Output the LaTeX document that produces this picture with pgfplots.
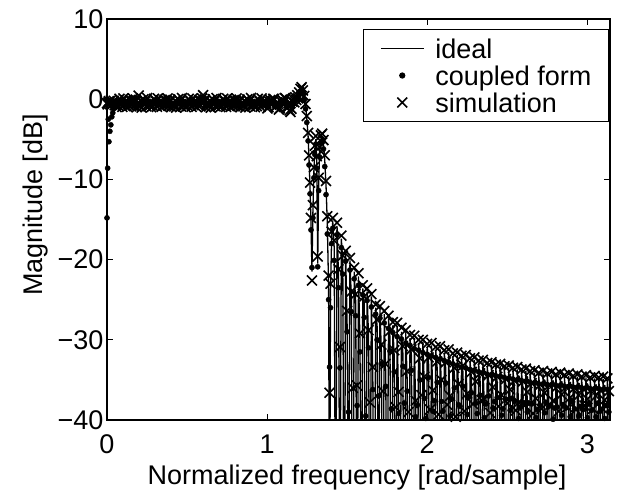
\documentclass[border=0pt]{standalone}
\usepackage{fontspec}
\setmainfont{Liberation Sans}
\usepackage{pgfplots}
\usepackage{pgfplotstable}
\pgfplotsset{compat=1.18}
\pgfplotstableread{
x id cf sim
0.000 -0.30 -14.8 -0.50
0.004 -0.28 -8.6 -0.65
0.008 -0.22 -2.5 -0.40
0.012 -0.12 -5.3 -0.25
0.018 -0.05 -4.0 -0.60
0.024 0.02 -3.2 -0.15
0.030 -0.02 -2.2 -0.70
0.036 -0.06 -1.7 -0.55
0.042 -0.15 -1.2 -0.20
0.048 -0.24 -0.9 -0.75
0.054 -0.38 -0.75 -0.70
0.060 -0.35 -0.70 -1.00
0.066 -0.28 -0.60 -0.45
0.072 -0.19 -0.55 -0.85
0.078 -0.10 -0.45 0.05
0.084 -0.02 -0.35 -0.60
0.090 0.03 -0.30 -0.30
0.096 -0.01 -0.35 -0.95
0.102 -0.07 -0.40 0.10
0.108 -0.16 -0.50 -0.75
0.114 -0.25 -0.60 -0.50
0.120 -0.32 -0.70 -0.15
0.126 -0.38 -0.75 -0.95
0.132 -0.35 -0.70 -0.40
0.138 -0.28 -0.60 -0.80
0.144 -0.19 -0.55 -0.10
0.150 -0.10 -0.45 -0.65
0.156 -0.02 -0.35 -0.20
0.162 0.03 -0.30 0.10
0.168 -0.01 -0.35 -0.85
0.174 -0.07 -0.40 -0.35
0.180 -0.16 -0.50 -0.05
0.186 -0.25 -0.60 -1.00
0.192 -0.32 -0.70 -0.55
0.198 -0.38 -0.75 0.45
0.204 -0.35 -0.70 -0.90
0.210 -0.28 -0.60 -0.20
0.216 -0.19 -0.55 -1.05
0.222 -0.10 -0.45 -0.40
0.228 -0.02 -0.35 0.00
0.234 0.03 -0.30 -0.70
0.240 -0.01 -0.35 -0.25
0.246 -0.07 -0.40 -0.90
0.252 -0.16 -0.50 0.15
0.258 -0.25 -0.60 -0.60
0.264 -0.32 -0.70 -0.80
0.270 -0.38 -0.75 -0.70
0.276 -0.35 -0.70 -1.00
0.282 -0.28 -0.60 -0.45
0.288 -0.19 -0.55 -0.85
0.294 -0.10 -0.45 0.05
0.300 -0.02 -0.35 -0.60
0.306 0.03 -0.30 -0.30
0.312 -0.01 -0.35 -0.95
0.318 -0.07 -0.40 0.10
0.324 -0.16 -0.50 -0.75
0.330 -0.25 -0.60 -0.50
0.336 -0.32 -0.70 -0.15
0.342 -0.38 -0.75 -0.95
0.348 -0.35 -0.70 -0.40
0.354 -0.28 -0.60 -0.80
0.360 -0.19 -0.55 -0.10
0.366 -0.10 -0.45 -0.65
0.372 -0.02 -0.35 -0.20
0.378 0.03 -0.30 0.10
0.384 -0.01 -0.35 -0.85
0.390 -0.07 -0.40 -0.35
0.396 -0.16 -0.50 -0.05
0.402 -0.25 -0.60 -1.00
0.408 -0.32 -0.70 -0.55
0.414 -0.38 -0.75 -0.55
0.420 -0.35 -0.70 -0.90
0.426 -0.28 -0.60 -0.20
0.432 -0.19 -0.55 -1.05
0.438 -0.10 -0.45 -0.40
0.444 -0.02 -0.35 0.00
0.450 0.03 -0.30 -0.70
0.456 -0.01 -0.35 -0.25
0.462 -0.07 -0.40 -0.90
0.468 -0.16 -0.50 0.15
0.474 -0.25 -0.60 -0.60
0.480 -0.32 -0.70 -0.80
0.486 -0.38 -0.75 -0.70
0.492 -0.35 -0.70 -1.00
0.498 -0.28 -0.60 -0.45
0.504 -0.19 -0.55 -0.85
0.510 -0.10 -0.45 0.05
0.516 -0.02 -0.35 -0.60
0.522 0.03 -0.30 -0.30
0.528 -0.01 -0.35 -0.95
0.534 -0.07 -0.40 0.10
0.540 -0.16 -0.50 -0.75
0.546 -0.25 -0.60 -0.50
0.552 -0.32 -0.70 -0.15
0.558 -0.38 -0.75 -0.95
0.564 -0.35 -0.70 -0.40
0.570 -0.28 -0.60 -0.80
0.576 -0.19 -0.55 -0.10
0.582 -0.10 -0.45 -0.65
0.588 -0.02 -0.35 -0.20
0.594 0.03 -0.30 0.10
0.600 -0.01 -0.35 0.50
0.606 -0.07 -0.40 -0.35
0.612 -0.16 -0.50 -0.05
0.618 -0.25 -0.60 -1.00
0.624 -0.32 -0.70 -0.55
0.630 -0.38 -0.75 -0.55
0.636 -0.35 -0.70 -0.90
0.642 -0.28 -0.60 -0.20
0.648 -0.19 -0.55 -1.05
0.654 -0.10 -0.45 -0.40
0.660 -0.02 -0.35 0.00
0.666 0.03 -0.30 -0.70
0.672 -0.01 -0.35 -0.25
0.678 -0.07 -0.40 -0.90
0.684 -0.16 -0.50 0.15
0.690 -0.25 -0.60 -0.60
0.696 -0.32 -0.70 -0.80
0.702 -0.38 -0.75 -0.70
0.708 -0.35 -0.70 -1.00
0.714 -0.28 -0.60 -0.45
0.720 -0.19 -0.55 -0.85
0.726 -0.10 -0.45 0.05
0.732 -0.02 -0.35 -0.60
0.738 0.03 -0.30 -0.30
0.744 -0.01 -0.35 -0.95
0.750 -0.07 -0.40 0.10
0.756 -0.16 -0.50 -0.75
0.762 -0.25 -0.60 -0.50
0.768 -0.32 -0.70 -0.15
0.774 -0.38 -0.75 -0.95
0.780 -0.35 -0.70 -0.40
0.786 -0.28 -0.60 -0.80
0.792 -0.19 -0.55 -0.10
0.798 -0.10 -0.45 -0.65
0.804 -0.02 -0.35 -0.20
0.810 0.03 -0.30 0.10
0.816 -0.01 -0.35 -0.85
0.822 -0.07 -0.40 -0.35
0.828 -0.16 -0.50 -0.05
0.834 -0.25 -0.60 -1.00
0.840 -0.32 -0.70 -0.55
0.846 -0.38 -0.75 -0.55
0.852 -0.35 -0.70 -0.90
0.858 -0.28 -0.60 -0.20
0.864 -0.19 -0.55 -1.05
0.870 -0.10 -0.45 -0.40
0.876 -0.02 -0.35 0.00
0.882 0.03 -0.30 -0.70
0.888 -0.01 -0.35 -0.25
0.894 -0.07 -0.40 -0.90
0.900 -0.16 -0.50 0.15
0.906 -0.25 -0.60 -0.60
0.912 -0.32 -0.70 -0.80
0.918 -0.38 -0.75 -0.70
0.924 -0.35 -0.70 -1.00
0.930 -0.28 -0.60 -0.45
0.936 -0.19 -0.55 -0.85
0.942 -0.10 -0.45 0.05
0.948 -0.02 -0.35 -0.60
0.954 0.03 -0.30 -0.30
0.960 -0.01 -0.35 -0.95
0.966 -0.07 -0.40 0.10
0.972 -0.16 -0.50 -0.75
0.978 -0.25 -0.60 -0.50
0.984 -0.32 -0.70 -0.15
0.990 -0.43 -0.75 -0.30
0.996 -0.50 -0.70 -0.55
1.002 -0.44 -0.70 -1.15
1.008 -0.35 -0.60 -1.00
1.014 -0.20 -0.55 -0.30
1.020 -0.05 -0.55 -0.10
1.026 0.06 -0.40 -0.70
1.032 0.12 -0.30 -0.35
1.038 0.07 -0.35 0.05
1.044 -0.02 -0.45 0.00
1.050 -0.20 -0.55 -0.95
1.056 -0.38 -0.60 -0.90
1.062 -0.52 -0.75 -0.40
1.068 -0.60 -0.75 -0.60
1.074 -0.52 -0.70 -1.30
1.080 -0.40 -0.65 -1.15
1.086 -0.20 -0.55 -0.25
1.092 0.00 -0.45 -0.05
1.098 0.14 -0.40 -0.65
1.104 0.20 -0.35 -0.30
1.110 0.13 -0.35 0.15
1.116 0.02 -0.40 0.10
1.122 -0.24 -0.55 -1.00
1.128 -0.50 -0.65 -1.05
1.134 -0.70 -0.80 -0.50
1.140 -0.80 -0.75 -1.40
1.146 -0.70 -0.75 -1.60
1.152 -0.55 -0.60 -1.20
1.158 -0.28 -0.55 -0.30
1.164 0.00 -0.55 0.00
1.170 0.20 -0.30 -0.40
1.176 0.35 -0.10 0.25
1.182 0.40 -0.05 -0.10
1.188 0.45 0.00 0.50
1.194 0.55 0.15 0.10
1.200 0.70 0.55 0.85
1.208 1.15 1.00 1.30
1.216 1.30 1.10 1.50
1.224 0.90 0.70 1.10
1.232 0.20 -0.10 0.40
1.240 -0.80 -1.20 -0.60
1.248 -2.40 -2.90 -2.10
1.256 -4.60 -5.20 -4.20
1.262 -7.50 -8.20 -7.00
1.268 -11.0 -11.8 -10.4
1.274 -15.5 -16.3 -14.8
1.280 -21.5 -21.0 -22.6
1.286 -14.0 -14.8 -13.2
1.292 -9.0 -9.8 -8.5
1.298 -6.2 -6.9 -5.8
1.304 -5.0 -5.6 -4.6
1.310 -7.8 -8.6 -7.1
1.316 -20.5 -20.9 -19.6
1.322 -10.5 -11.4 -9.8
1.328 -6.5 -7.2 -6.0
1.336 -5.0 -5.5 -4.5
1.344 -4.8 -5.3 -4.3
1.352 -5.6 -6.2 -5.1
1.360 -7.6 -8.4 -7.0
1.368 -10.8 -11.9 -10.2
1.376 -15.5 -16.8 -14.6
1.384 -23.5 -25.0 -22.0
1.390 -60.0 -33.4 -36.6
1.396 -24.0 -26.0 -23.0
1.403 -17.2 -18.0 -16.5
1.410 -15.2 -16.1 -14.8
1.419 -18.5 -20.1 -17.6
1.428 -62 -44 -41
1.4368 -15.8 -16.9 -15.4
1.4458 -22.0 -23.5 -21.2
1.4548 -58 -33.5 -30.9
1.4636 -17.4 -18.5 -17.0
1.4726 -20.2 -21.8 -19.5
1.4816 -66 -45 -48
1.4904 -19.3 -20.2 -18.9
1.4994 -27.5 -29.0 -26.4
1.5084 -55 -39.0 -44
1.5172 -20.1 -21.3 -19.8
1.5262 -24.8 -26.5 -24.0
1.5352 -70 -46 -36.0
1.5440 -21.5 -22.4 -21.0
1.5530 -25.2 -27.0 -24.3
1.5620 -60 -38.2 -35.7
1.5708 -22.1 -23.2 -21.7
1.5798 -30.0 -31.5 -29.2
1.5888 -57 -44 -47
1.5976 -23.6 -24.4 -23.2
1.6066 -25.4 -27.2 -24.6
1.6156 -64 -39.5 -50
1.6244 -24.0 -25.1 -23.6
1.6334 -29.6 -31.0 -28.8
1.6424 -59 -48 -37.8
1.6512 -24.6 -25.9 -24.3
1.6602 -34.5 -36.2 -33.4
1.6692 -68 -45 -52
1.6780 -26.0 -26.8 -25.6
1.6870 -28.3 -30.0 -27.5
1.6960 -56 -37.0 -42
1.7048 -26.2 -27.3 -25.8
1.7138 -31.5 -33.0 -30.6
1.7228 -63 -49 -36.4
1.7316 -26.8 -27.9 -26.4
1.7406 -34.1 -35.8 -33.0
1.7496 -58 -41 -46
1.7584 -27.4 -28.6 -27.0
1.7674 -29.7 -31.4 -28.9
1.7764 -71 -38.6 -55
1.7852 -28.2 -29.1 -27.8
1.7942 -32.2 -34.0 -31.3
1.8032 -61 -46 -38.4
1.8120 -28.3 -29.6 -27.9
1.8210 -37.7 -39.2 -36.5
1.8300 -54 -43 -47
1.8388 -29.0 -29.9 -28.5
1.8478 -31.6 -33.3 -30.8
1.8568 -67 -37.9 -44
1.8656 -29.1 -30.4 -28.8
1.8746 -34.8 -36.4 -33.9
1.8836 -59 -50 -39.0
1.8924 -29.8 -30.7 -29.4
1.9014 -32.0 -33.8 -31.2
1.9104 -65 -42 -48
1.9192 -29.8 -31.1 -29.5
1.9282 -38.8 -39.6 -37.6
1.9372 -57 -38.2 -45
1.9460 -30.4 -31.3 -30.0
1.9550 -33.2 -35.0 -32.3
1.9640 -70 -47 -36.9
1.9728 -30.3 -31.6 -30.0
1.9818 -35.6 -37.3 -34.6
1.9908 -60 -39.8 -52
1.9996 -30.9 -31.8 -30.5
2.0086 -33.0 -34.7 -32.2
2.0176 -63 -44 -38.7
2.0264 -30.7 -32.0 -30.4
2.0354 -37.4 -38.9 -36.3
2.0444 -56 -37.6 -49
2.0532 -31.3 -32.2 -30.9
2.0622 -33.5 -35.3 -32.7
2.0712 -68 -48 -39.3
2.0800 -31.1 -32.4 -30.8
2.0890 -36.0 -37.7 -35.0
2.0980 -61 -38.9 -44
2.1068 -31.7 -32.6 -31.3
2.1158 -33.6 -35.4 -32.8
2.1248 -58 -43 -38.1
2.1336 -31.5 -32.8 -31.2
2.1426 -38.2 -39.5 -37.0
2.1516 -66 -37.4 -53
2.1604 -32.1 -33.0 -31.7
2.1694 -34.3 -36.0 -33.5
2.1784 -59 -45 -39.6
2.1872 -31.9 -33.2 -31.6
2.1962 -36.5 -38.1 -35.5
2.2052 -64 -38.3 -46
2.2140 -32.4 -33.4 -32.0
2.2230 -34.0 -35.8 -33.2
2.2320 -57 -47 -38.9
2.2408 -32.2 -33.5 -31.9
2.2498 -37.8 -39.3 -36.7
2.2588 -69 -37.1 -51
2.2676 -32.7 -33.7 -32.3
2.2766 -34.9 -36.6 -34.0
2.2856 -60 -44 -38.0
2.2944 -32.5 -33.8 -32.2
2.3034 -36.2 -37.9 -35.2
2.3124 -62 -39.2 -48
2.3212 -33.0 -34.0 -32.6
2.3302 -35.1 -36.9 -34.2
2.3392 -55 -46 -37.5
2.3480 -32.8 -34.1 -32.5
2.3570 -38.6 -39.7 -37.4
2.3660 -67 -38.0 -54
2.3748 -33.3 -34.3 -32.9
2.3838 -35.2 -37.0 -34.4
2.3928 -58 -42 -39.1
2.4016 -33.1 -34.4 -32.8
2.4106 -36.9 -38.5 -35.9
2.4196 -63 -37.7 -47
2.4284 -33.5 -34.5 -33.1
2.4374 -35.4 -37.2 -34.6
2.4464 -56 -48 -38.3
2.4552 -33.3 -34.6 -33.0
2.4642 -38.0 -39.4 -36.9
2.4732 -70 -38.6 -50
2.4820 -33.7 -34.7 -33.3
2.4910 -35.7 -37.4 -34.9
2.5000 -61 -43 -37.9
2.5088 -33.5 -34.8 -33.2
2.5178 -37.2 -38.8 -36.2
2.5268 -59 -37.3 -45
2.5356 -33.9 -34.9 -33.5
2.5446 -35.9 -37.7 -35.1
2.5536 -66 -46 -38.8
2.5624 -33.7 -35.0 -33.4
2.5714 -38.9 -39.8 -37.8
2.5804 -57 -38.4 -52
2.5892 -34.1 -35.1 -33.7
2.5982 -36.0 -37.8 -35.2
2.6072 -64 -44 -38.2
2.6160 -33.9 -35.2 -33.6
2.6250 -37.5 -39.0 -36.5
2.6340 -60 -37.9 -47
2.6428 -34.3 -35.3 -33.9
2.6518 -36.2 -38.0 -35.4
2.6608 -68 -49 -39.2
2.6696 -34.1 -35.4 -33.8
2.6786 -38.4 -39.7 -37.3
2.6876 -55 -38.7 -46
2.6964 -34.5 -35.5 -34.1
2.7054 -36.4 -38.2 -35.6
2.7144 -62 -43 -38.6
2.7232 -34.2 -35.5 -33.9
2.7322 -37.6 -39.1 -36.6
2.7412 -66 -37.8 -51
2.7500 -34.6 -35.6 -34.2
2.7590 -36.5 -38.3 -35.7
2.7680 -58 -45 -38.1
2.7768 -34.3 -35.6 -34.0
2.7858 -38.7 -39.9 -37.6
2.7948 -61 -38.5 -48
2.8036 -34.7 -35.7 -34.3
2.8126 -36.6 -38.4 -35.8
2.8216 -69 -47 -38.9
2.8304 -34.4 -35.7 -34.1
2.8394 -37.9 -39.4 -36.8
2.8484 -56 -38.1 -45
2.8572 -34.8 -35.8 -34.4
2.8662 -36.7 -38.5 -35.9
2.8752 -63 -44 -38.4
2.8840 -34.5 -35.8 -34.2
2.8930 -38.3 -39.6 -37.2
2.9020 -60 -37.6 -53
2.9108 -34.9 -35.9 -34.5
2.9198 -36.8 -38.6 -36.0
2.9288 -67 -46 -38.7
2.9376 -34.6 -35.9 -34.3
2.9466 -38.0 -39.5 -36.9
2.9556 -57 -38.3 -47
2.9644 -35.0 -36.0 -34.6
2.9734 -36.9 -38.7 -36.1
2.9824 -65 -43 -38.2
2.9912 -34.7 -36.0 -34.4
3.0002 -38.5 -39.7 -37.4
3.0092 -59 -38.0 -50
3.0180 -35.1 -36.1 -34.7
3.0270 -37.0 -38.8 -36.2
3.0360 -62 -48 -38.6
3.0448 -34.8 -36.1 -34.5
3.0538 -38.1 -39.6 -37.0
3.0628 -68 -37.9 -46
3.0716 -35.1 -36.1 -34.7
3.0806 -37.1 -38.9 -36.3
3.0896 -56 -45 -38.5
3.0984 -34.9 -36.2 -34.6
3.1074 -38.6 -39.8 -37.5
3.1164 -61 -38.2 -49
3.1252 -35.2 -36.2 -34.8
3.1342 -37.2 -39.0 -36.4
3.1416 -58 -44 -38.3
}\datatable
\begin{document}
\begin{tikzpicture}
\path[use as bounding box] (-107pt,-73pt) rectangle (521pt,420pt);
\begin{axis}[
  at={(0pt,0pt)}, anchor=south west,
  scale only axis, width=503pt, height=401pt,
  xmin=0, xmax=3.14159, ymin=-40, ymax=10,
  xtick={0,1,2,3}, xticklabels={0,1,2,3},
  ytick={-40,-30,-20,-10,0,10},
  yticklabels={−40,−30,−20,−10,0,10},
  tick align=inside, major tick length=6pt,
  axis line style={line width=1.2pt},
  every tick/.style={black, line width=1.2pt},
  tick label style={font=\fontsize{27}{32}\selectfont},
  xticklabel style={anchor=base, yshift=-33pt},
  label style={font=\fontsize{27}{32}\selectfont},
  xlabel={Normalized frequency [rad/sample]},
  ylabel={Magnitude [dB]},
  xlabel style={at={(axis description cs:0.497,-0.16)}, anchor=base},
  ylabel style={at={(axis description cs:-0.129,0.536)}, anchor=base},
  legend cell align=left,
  legend image code/.code={\draw[mark repeat=2,mark phase=2,#1] plot coordinates {(0pt,0pt) (21.5pt,0pt) (43pt,0pt)};},
  legend style={at={(rel axis cs:0.998,0.975)}, anchor=north east,
    draw=black, line width=1pt, fill=white,
    font=\fontsize{27}{32}\selectfont,
    inner xsep=17pt, inner ysep=9pt, row sep=7pt,
    nodes={inner sep=0pt, text height=20pt, text depth=0pt},
    /tikz/every odd column/.append style={column sep=11pt}},
]
\addplot[black, line width=1.3pt, mark=none] table[x=x, y=id] {\datatable};
\addlegendentry{ideal}
\addplot[black, only marks, mark=*, mark size=2.6pt] table[x=x, y=cf] {\datatable};
\addlegendentry{coupled form}
\addplot[black, only marks, mark=x, mark size=7pt, line width=1.6pt, mark options={line width=1.6pt}] table[x=x, y=sim] {\datatable};
\addlegendentry{simulation}
\end{axis}
\end{tikzpicture}
\end{document}
